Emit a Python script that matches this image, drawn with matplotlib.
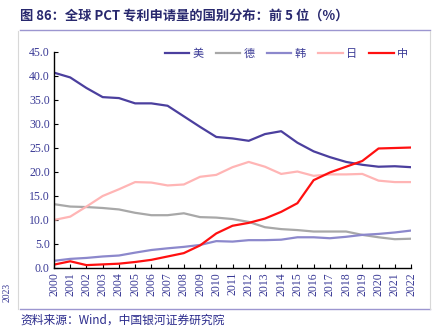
import matplotlib
matplotlib.use('Agg')
import matplotlib.pyplot as plt
from matplotlib.lines import Line2D

plt.rcParams['font.family'] = ['Noto Sans CJK SC', 'DejaVu Sans']

years = list(range(2000, 2023))
us = [40.7, 39.7, 37.5, 35.6, 35.4, 34.3, 34.3, 33.8, 31.6, 29.4, 27.3,
      27.0, 26.5, 27.9, 28.5, 26.1, 24.3, 23.1, 22.1, 21.5, 21.1, 21.2, 21.0]
de = [13.3, 12.8, 12.7, 12.5, 12.2, 11.5, 11.0, 11.0, 11.4, 10.6, 10.5,
      10.2, 9.6, 8.5, 8.1, 7.9, 7.6, 7.6, 7.6, 6.9, 6.4, 6.0, 6.1]
kr = [1.5, 1.9, 2.1, 2.4, 2.6, 3.2, 3.75, 4.1, 4.4, 4.8, 5.6,
      5.5, 5.8, 5.8, 5.9, 6.4, 6.4, 6.2, 6.5, 6.9, 7.1, 7.4, 7.8]
jp = [10.0, 10.7, 12.8, 15.0, 16.4, 17.9, 17.8, 17.2, 17.4, 19.0, 19.4,
      21.0, 22.1, 21.1, 19.6, 20.1, 19.2, 19.5, 19.5, 19.6, 18.2, 17.9, 17.9]
cn = [0.7, 1.4, 0.6, 0.75, 0.9, 1.25, 1.7, 2.4, 3.1, 4.7, 7.2,
      8.8, 9.4, 10.3, 11.7, 13.5, 18.3, 19.9, 21.1, 22.3, 24.9, 25.0, 25.1]

labels = ['美', '德', '韩', '日', '中']
colors = ['#4B3F9E', '#A8A8A8', '#8C88CC', '#FFB5B5', '#FF1010']
series = [us, de, kr, jp, cn]

text_blue = '#3A3A96'
frame_col = '#9C96D0'

fig = plt.figure(figsize=(4.43, 3.31), dpi=100)
W, H = 443, 331

# title and frame lines
fig.text(20 / W, 1 - 16 / H, '图 86：全球 PCT 专利申请量的国别分布：前 5 位（%）',
         fontsize=9.5, fontweight='bold', color='#28286E', va='center', ha='left')
fig.add_artist(Line2D([20 / W, 430 / W], [1 - 30 / H, 1 - 30 / H], color=frame_col, lw=1.0))
fig.add_artist(Line2D([20 / W, 430 / W], [1 - 309 / H, 1 - 309 / H], color=frame_col, lw=1.0))
fig.add_artist(Line2D([18 / W, 18 / W], [1 - 309 / H, 1 - 31 / H], color='#D8D8D8', lw=0.8))
fig.add_artist(Line2D([430 / W, 430 / W], [1 - 309 / H, 1 - 31 / H], color='#D8D8D8', lw=0.8))
fig.text(3 / W, 1 - 292 / H, '2023', rotation=90, fontsize=7, color=text_blue,
         family='Liberation Serif', va='center', ha='left')
fig.text(20 / W, 1 - 320 / H, '资料来源：Wind，中国银河证券研究院',
         fontsize=8.5, style='italic', color='#2A2A8C', va='center', ha='left')

ax = fig.add_axes([54 / W, 1 - 268 / H, (411 - 54) / W, (268 - 52) / H])
for vals, lab, col in zip(series, labels, colors):
    ax.plot(years, vals, color=col, lw=1.6, label=lab)

ax.set_xlim(2000, 2022)
ax.set_ylim(0, 45)
ax.set_yticks([0, 5, 10, 15, 20, 25, 30, 35, 40, 45])
ax.set_yticklabels(['%.1f' % v for v in ax.get_yticks()])
ax.set_xticks(years)
ax.set_xticklabels([str(y) for y in years], rotation=90)
for lbl in ax.get_xticklabels() + ax.get_yticklabels():
    lbl.set_family('Liberation Serif')
    lbl.set_fontsize(8.5)
    lbl.set_color(text_blue)
ax.tick_params(direction='in', length=3, width=0.8, pad=3)
ax.spines['top'].set_visible(False)
ax.spines['right'].set_visible(False)
ax.spines['left'].set_linewidth(1.0)
ax.spines['bottom'].set_linewidth(1.0)

leg = ax.legend(loc='upper right', bbox_to_anchor=(1.02, 1.06), ncol=5, frameon=False,
                fontsize=8, handlelength=2.2, handletextpad=0.3, columnspacing=1.1)
for t in leg.get_texts():
    t.set_color(text_blue)

fig.savefig('out.png', dpi=100)
